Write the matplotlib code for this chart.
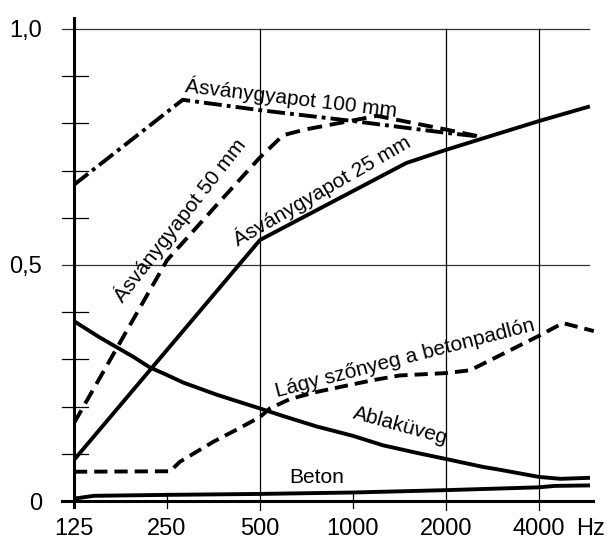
import matplotlib
matplotlib.use("Agg")
import matplotlib.pyplot as plt

plt.rcParams['font.family'] = ['Liberation Sans', 'DejaVu Sans']

# ---- data (frequency in Hz, absorption coefficient) ----
f_100mm = [125, 281, 500, 1000, 2000, 2580]
a_100mm = [0.67, 0.85, 0.828, 0.805, 0.780, 0.772]

f_50mm = [125, 250, 363, 500, 594, 700, 1195, 2000, 2580]
a_50mm = [0.165, 0.51, 0.628, 0.728, 0.775, 0.787, 0.816, 0.787, 0.772]

f_25mm = [125, 500, 1487, 2000, 4000, 5765]
a_25mm = [0.087, 0.553, 0.716, 0.744, 0.805, 0.835]

f_glass = [125, 151, 195, 220, 250, 282, 363, 500, 594, 762, 1000, 1250, 1608, 2000,
           2645, 3000, 4000, 4700, 5765]
a_glass = [0.381, 0.347, 0.305, 0.283, 0.267, 0.251, 0.225, 0.196, 0.180, 0.158, 0.138,
           0.118, 0.102, 0.089, 0.072, 0.066, 0.051, 0.047, 0.049]

f_carpet = [125, 256, 275, 352, 431, 500, 538, 625, 762, 978, 1160, 1418, 2000, 2395,
            4000, 4780, 6020]
a_carpet = [0.062, 0.063, 0.083, 0.125, 0.155, 0.178, 0.196, 0.216, 0.231, 0.246, 0.256,
            0.266, 0.271, 0.277, 0.350, 0.377, 0.360]

f_concrete = [125, 145, 250, 500, 1000, 2000, 4000, 4500, 5765]
a_concrete = [0.005, 0.011, 0.013, 0.015, 0.018, 0.023, 0.029, 0.032, 0.033]

x_ticks = [125, 250, 500, 1000, 2000, 4000]
x_labels = ['125', '250', '500', '1000', '2000', '4000']
y_ticks = [0, 0.5, 1.0]
y_labels = ['0', '0,5', '1,0']
y_minor = [0.1, 0.2, 0.3, 0.4, 0.6, 0.7, 0.8, 0.9]
grid_x = [500, 2000, 4000]
short_x = [250, 1000]

W, H = 609, 540
fig = plt.figure(figsize=(W / 100, H / 100), dpi=100)
ax = fig.add_axes([74 / W, 39 / H, 522 / W, 472 / H])
ax.set_xscale('log')
ax.set_xlim(125, 6118)
ax.set_ylim(0, 1)
for s in ax.spines.values():
    s.set_visible(False)
ax.minorticks_off()

# grid and axes
for y in [0.5, 1.0]:
    ax.axhline(y, xmin=-0.023, xmax=0.9866, color='#333333', lw=0.9, clip_on=False, zorder=1)
for x in grid_x:
    ax.axvline(x, ymin=-0.019, ymax=1.0, color='black', lw=0.9, clip_on=False, zorder=1)
for x in short_x:
    ax.axvline(x, ymin=-0.015, ymax=0.017, color='black', lw=0.9, clip_on=False, zorder=1)
for y in y_minor:
    ax.axhline(y, xmin=-0.023, xmax=0.027, color='black', lw=0.9, clip_on=False, zorder=1)
ax.axvline(125, ymin=-0.013, ymax=1.023, color='black', lw=2.2, clip_on=False, zorder=3)
ax.axhline(0, xmin=-0.023, xmax=0.994, color='black', lw=2.2, clip_on=False, zorder=3)

ax.set_xticks(x_ticks, x_labels)
ax.set_yticks(y_ticks, y_labels)
ax.tick_params(axis='x', length=0, pad=12, labelsize=17)
ax.tick_params(axis='y', length=0, pad=23, labelsize=17)
ax.annotate('Hz', xy=(4000, 0), xycoords='data', xytext=(26.5, -12),
            textcoords='offset points', ha='left', va='top', fontsize=17)

lw = 2.8
ax.plot(f_100mm, a_100mm, color='black', lw=lw, linestyle=(0, (4.6, 1.3, 1.0, 1.3)),
        dash_capstyle='butt', zorder=4)
ax.plot(f_50mm, a_50mm, color='black', lw=lw, linestyle=(0, (3.8, 2.0)),
        dash_capstyle='butt', zorder=4)
ax.plot(f_25mm, a_25mm, color='black', lw=lw, zorder=4)
ax.plot(f_glass, a_glass, color='black', lw=lw, zorder=4)
ax.plot(f_carpet, a_carpet, color='black', lw=lw, linestyle=(0, (3.4, 1.8)),
        dash_capstyle='butt', zorder=4, clip_on=False)
ax.plot(f_concrete, a_concrete, color='black', lw=lw, zorder=4)

fs = 15
kw = dict(ha='center', va='center', rotation_mode='anchor', fontsize=fs, zorder=5)
ax.text(630, 0.855, 'Ásványgyapot 100 mm', rotation=-6.7, **kw)
ax.text(275, 0.595, 'Ásványgyapot 50 mm', rotation=52, **kw)
ax.text(794, 0.659, 'Ásványgyapot 25 mm', rotation=30, **kw)
ax.text(1474, 0.303, 'Lágy szőnyeg a betonpadlón', rotation=14.5, **kw)
ax.text(1420, 0.160, 'Ablaküveg', rotation=-15.5, **kw)
ax.text(765, 0.049, 'Beton', rotation=0, **kw)

fig.savefig('out.png', dpi=100)
